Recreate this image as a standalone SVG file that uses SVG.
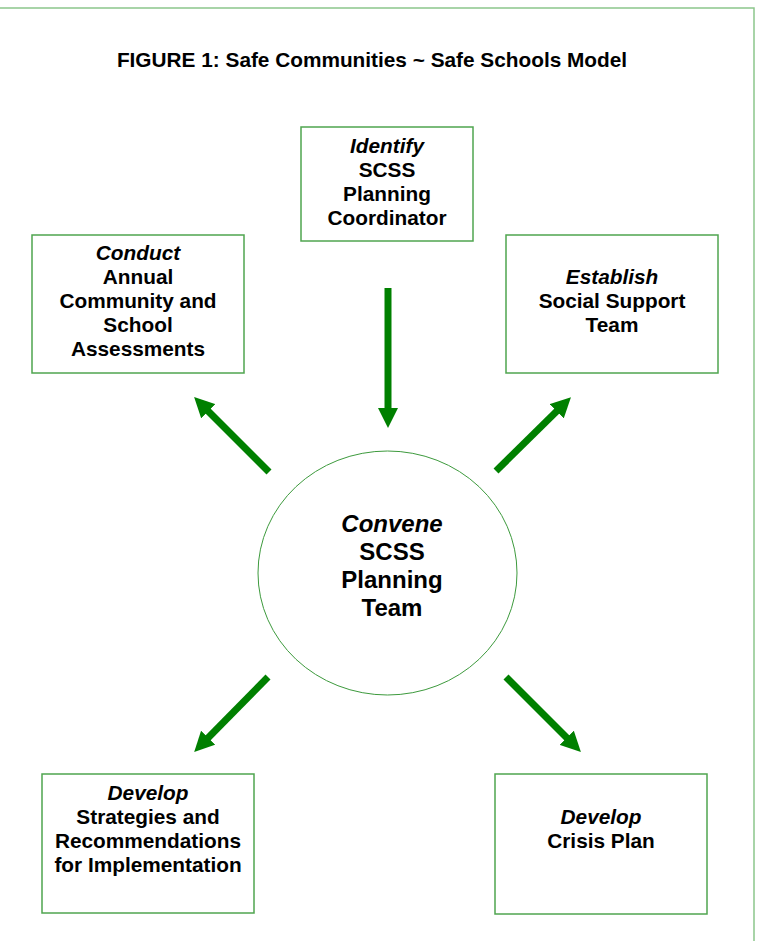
<svg xmlns="http://www.w3.org/2000/svg" width="757" height="941" viewBox="0 0 757 941">
<style>
text{font-family:"Liberation Sans",Arial,sans-serif;font-weight:bold;fill:#000;text-anchor:middle}
.t{font-size:20.8px}
.c{font-size:24px}
.title{font-size:20.8px}
.it{font-style:italic}
.box{fill:#fff;stroke:#4fa54f;stroke-width:1.5}
.arr{stroke:#008000;stroke-width:7;fill:none;marker-end:url(#ah)}
</style>
<defs>
<marker id="ah" markerUnits="userSpaceOnUse" markerWidth="20" markerHeight="20" refX="6" refY="10" orient="auto">
<path d="M0,0 L20,10 L0,20 Z" fill="#008000"/>
</marker>
</defs>
<rect width="757" height="941" fill="#fff"/>
<path d="M0,8 H754 V941" fill="none" stroke="#8cc68c" stroke-width="1.5"/>
<text class="title" x="372" y="67">FIGURE 1: Safe Communities ~ Safe Schools Model</text>

<g id="identify">
<rect class="box" x="301" y="127" width="172" height="114"/>
<text class="t" x="387" y="153"><tspan class="it">Identify</tspan><tspan x="387" dy="24">SCSS</tspan><tspan x="387" dy="24">Planning</tspan><tspan x="387" dy="24">Coordinator</tspan></text>
</g>
<g id="conduct">
<rect class="box" x="32" y="235" width="212" height="138"/>
<text class="t" x="138" y="260"><tspan class="it">Conduct</tspan><tspan x="138" dy="24">Annual</tspan><tspan x="138" dy="24">Community and</tspan><tspan x="138" dy="24">School</tspan><tspan x="138" dy="24">Assessments</tspan></text>
</g>
<g id="establish">
<rect class="box" x="506" y="235" width="212" height="138"/>
<text class="t" x="612" y="284"><tspan class="it">Establish</tspan><tspan x="612" dy="24">Social Support</tspan><tspan x="612" dy="24">Team</tspan></text>
</g>
<g id="strategies">
<rect class="box" x="42" y="774" width="212" height="139"/>
<text class="t" x="148" y="800"><tspan class="it">Develop</tspan><tspan x="148" dy="24">Strategies and</tspan><tspan x="148" dy="24">Recommendations</tspan><tspan x="148" dy="24">for Implementation</tspan></text>
</g>
<g id="crisis">
<rect class="box" x="495" y="774" width="212" height="140"/>
<text class="t" x="601" y="824"><tspan class="it">Develop</tspan><tspan x="601" dy="24">Crisis Plan</tspan></text>
</g>
<g id="convene">
<ellipse cx="387.5" cy="573" rx="129.5" ry="122" fill="#fff" stroke="#3d9a3d" stroke-width="1"/>
<text class="c" x="392" y="532"><tspan class="it">Convene</tspan><tspan x="392" dy="28">SCSS</tspan><tspan x="392" dy="28">Planning</tspan><tspan x="392" dy="28">Team</tspan></text>
</g>
<g id="connectors">
<line class="arr" x1="388" y1="288" x2="388" y2="414"/>
<line class="arr" x1="269" y1="472" x2="204" y2="407"/>
<line class="arr" x1="496" y1="471" x2="561" y2="407"/>
<line class="arr" x1="268" y1="677" x2="204" y2="742"/>
<line class="arr" x1="506" y1="677" x2="571" y2="742"/>
</g>
</svg>
